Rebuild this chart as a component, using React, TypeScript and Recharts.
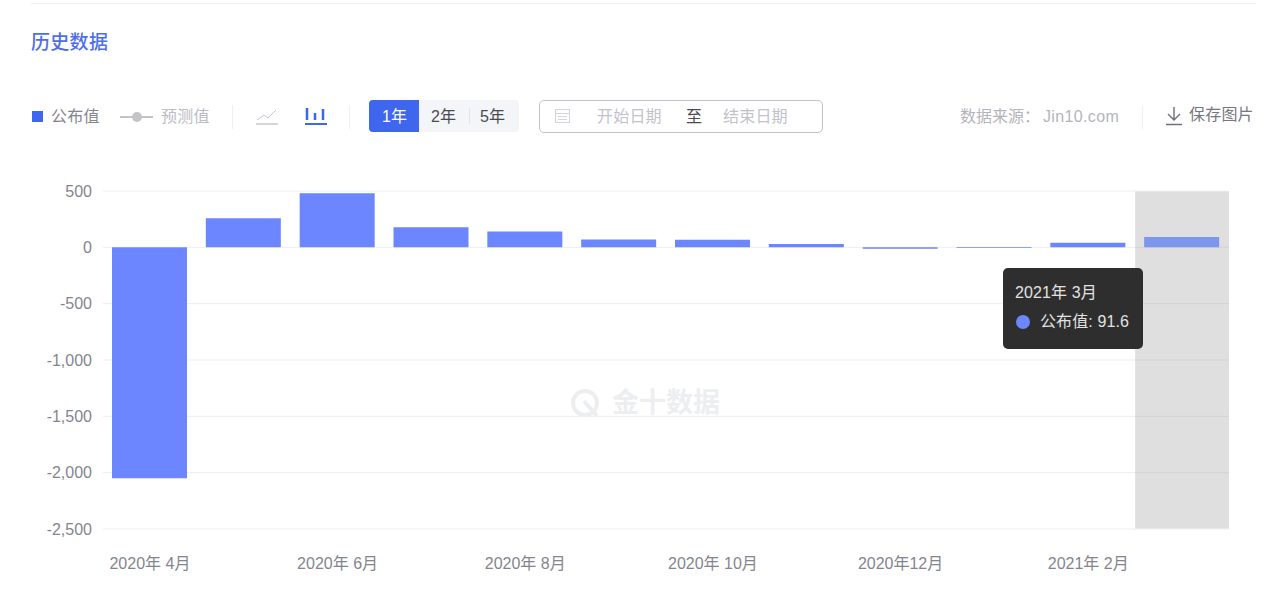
import React from "react";
import { BarChart, Bar, XAxis, YAxis, CartesianGrid, Tooltip, Cell } from "recharts";

const months = [
  "2020年 4月", "2020年 5月", "2020年 6月", "2020年 7月", "2020年 8月", "2020年 9月",
  "2020年 10月", "2020年 11月", "2020年12月", "2021年 1月", "2021年 2月", "2021年 3月",
];
const published = [-2050, 258, 480, 178, 140, 70, 68, 30, -12, -5, 40, 91.6];
const yTicks = [-2500, -2000, -1500, -1000, -500, 0, 500];
const rangeButtons = ["1年", "2年", "5年"];

const chartData = months.map((month, i) => ({ month, published: published[i] }));

const FONT = '"Liberation Sans", "Noto Sans CJK SC", sans-serif';
const BLUE = "#6b86ff";
const ACCENT = "#3f66ee";

function Label({ x, y, color, size = 16, weight = 400, spacing = 0, children }: any) {
  return (
    <span
      style={{
        position: "absolute",
        left: x,
        top: y,
        transform: "translateY(-50%)",
        color,
        fontSize: size,
        fontWeight: weight,
        letterSpacing: spacing,
        lineHeight: 1,
        whiteSpace: "nowrap",
      }}
    >
      {children}
    </span>
  );
}

function Box({ x, y, w, h, style }: any) {
  return <div style={{ position: "absolute", left: x, top: y, width: w, height: h, ...style }} />;
}

function ChartTooltip({ active, payload, label }: any) {
  if (!active || !payload || !payload.length) return null;
  return (
    <div
      style={{
        width: 140,
        height: 81,
        boxSizing: "border-box",
        background: "#2e2e2e",
        borderRadius: 5,
        color: "#e2e2e2",
        fontFamily: FONT,
        fontSize: 16,
        position: "relative",
      }}
    >
      <Label x={12} y={25} color="#e2e2e2" spacing={0.1}>{label}</Label>
      <div
        style={{
          position: "absolute",
          left: 13,
          top: 47,
          width: 14,
          height: 14,
          borderRadius: 7,
          background: BLUE,
        }}
      />
      <Label x={37} y={54} color="#e2e2e2" spacing={0.1}>公布值: {payload[0].value}</Label>
    </div>
  );
}

function Toolbar() {
  return (
    <>
      <Box x={31} y={3} w={1225} h={1} style={{ background: "#eeeeee" }} />
      <Label x={31} y={42} color="#4f6fe8" size={19} weight={500} spacing={0.3}>历史数据</Label>

      <Box x={32} y={111} w={11} h={11} style={{ background: ACCENT }} />
      <Label x={51} y={117} color="#85858f" spacing={0.3}>公布值</Label>
      <Box x={120} y={116} w={33} h={2} style={{ background: "#c4c4c8" }} />
      <Box x={132} y={112} w={10} h={10} style={{ background: "#c4c4c8", borderRadius: 5 }} />
      <Label x={161} y={117} color="#bcbcc4" spacing={0.3}>预测值</Label>
      <Box x={232} y={105} w={1} h={24} style={{ background: "#f0f0f2" }} />

      <svg style={{ position: "absolute", left: 255, top: 106 }} width={24} height={22}>
        <path d="M2 14 L9 9 L13 12 L21 4" fill="none" stroke="#c8c8ce" strokeWidth={1} />
        <path d="M1 18 H23" stroke="#c8c8ce" strokeWidth={1.5} />
      </svg>
      <svg style={{ position: "absolute", left: 304, top: 106 }} width={24} height={22}>
        <path d="M3 2 V14 M11 7 V14 M19 3 V14" stroke={ACCENT} strokeWidth={2.5} />
        <path d="M1 18 H23" stroke={ACCENT} strokeWidth={2} />
      </svg>
      <Box x={349} y={105} w={1} h={24} style={{ background: "#f0f0f2" }} />

      <Box x={369} y={100} w={150} h={32} style={{ background: "#f4f5f8", borderRadius: 4 }} />
      <Box x={369} y={100} w={50} h={32} style={{ background: ACCENT, borderRadius: "4px 0 0 4px" }} />
      <Box x={469} y={108} w={1} h={16} style={{ background: "#e2e3e8" }} />
      {rangeButtons.map((text, i) => (
        <Label key={text} x={382 + i * 49} y={117} color={i === 0 ? "#ffffff" : "#4a4a52"}>
          {text}
        </Label>
      ))}

      <Box
        x={539}
        y={100}
        w={284}
        h={33}
        style={{ border: "1px solid #c2c3ca", borderRadius: 5, boxSizing: "border-box" }}
      />
      <svg style={{ position: "absolute", left: 554, top: 107 }} width={18} height={18}>
        <rect x={1.5} y={2.5} width={14} height={13} fill="none" stroke="#d4d4da" />
        <path d="M2 6.5 H15 M4 9.5 H13 M4 12.5 H13" stroke="#d4d4da" />
      </svg>
      <Label x={597} y={117} color="#c2c2ca" spacing={0.2}>开始日期</Label>
      <Label x={686} y={117} color="#4a4a52">至</Label>
      <Label x={723} y={117} color="#c2c2ca" spacing={0.2}>结束日期</Label>

      <Label x={960} y={117} color="#b4b4bc">数据来源：</Label>
      <Label x={1043} y={117} color="#b4b4bc" spacing={0.35}>Jin10.com</Label>
      <Box x={1142} y={105} w={1} h={24} style={{ background: "#f0f0f2" }} />
      <svg style={{ position: "absolute", left: 1165, top: 106 }} width={18} height={20}>
        <path d="M9 1 V14 M3 8 L9 14 L15 8 M1 18.5 H17" fill="none" stroke="#6f6f78" strokeWidth={1.4} />
      </svg>
      <Label x={1189} y={115} color="#77777f" spacing={0.2}>保存图片</Label>

      <svg style={{ position: "absolute", left: 570, top: 388 }} width={32} height={32}>
        <circle cx={15} cy={15} r={12} fill="none" stroke="#eceef0" strokeWidth={4} />
        <path d="M14 13 L20 20 L27 28" fill="none" stroke="#eceef0" strokeWidth={4} />
      </svg>
      <Label x={612} y={403} color="#eceef0" size={27} weight={700}>金十数据</Label>
    </>
  );
}

export default function App() {
  return (
    <div
      style={{
        position: "absolute",
        left: 0,
        top: 0,
        width: 1280,
        height: 614,
        background: "#ffffff",
        fontFamily: FONT,
        overflow: "hidden",
      }}
    >
      <Toolbar />
      <BarChart
        width={1280}
        height={614}
        data={chartData}
        margin={{ top: 191, right: 51, bottom: 45, left: 0 }}
        style={{ position: "absolute", left: 0, top: 0 }}
      >
        <CartesianGrid vertical={false} stroke="#eeeef0" />
        <XAxis
          dataKey="month"
          interval={1}
          axisLine={false}
          tickLine={false}
          tick={{ fill: "#85858f", fontSize: 16, fontFamily: FONT }}
          tickMargin={23}
          height={40}
        />
        <YAxis
          width={103}
          domain={[-2500, 500]}
          ticks={yTicks}
          axisLine={false}
          tickLine={false}
          tick={{ fill: "#85858f", fontSize: 16, fontFamily: FONT }}
          tickMargin={5}
          tickFormatter={(v: number) => v.toLocaleString("en-US")}
        />
        <Tooltip
          defaultIndex={11}
          active
          isAnimationActive={false}
          position={{ x: 1003, y: 268 }}
          cursor={{ fill: "rgba(150,150,150,0.3)" }}
          content={<ChartTooltip />}
          wrapperStyle={{ outline: "none", zIndex: 5 }}
        />
        <Bar dataKey="published" barSize={75} fill={BLUE} isAnimationActive={false} activeBar={false}>
          {chartData.map((d, i) => (
            <Cell key={d.month} fill={i === months.length - 1 ? "#7c97ec" : BLUE} />
          ))}
        </Bar>
      </BarChart>
    </div>
  );
}
